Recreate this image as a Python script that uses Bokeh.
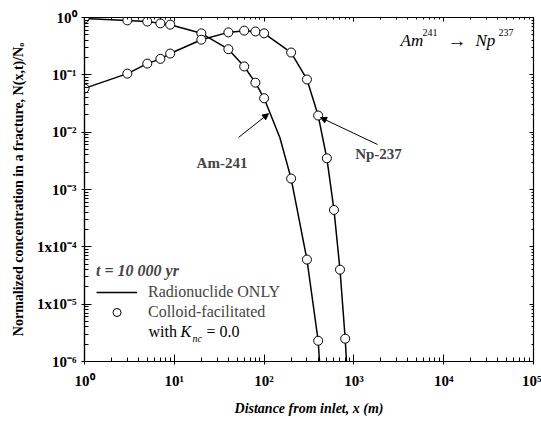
from bokeh.plotting import figure
from bokeh.models import (Range1d, LogAxis, FixedTicker, Label, Arrow, NormalHead,
                          Legend, LegendItem)
from bokeh.embed import file_html
from bokeh.resources import INLINE

# ---- data ----
am_x = [1, 3, 5, 7, 9, 20, 40, 60, 80, 100, 200, 300, 400]
am_y = [0.96, 0.89, 0.85, 0.79, 0.75, 0.53, 0.28, 0.14, 0.073, 0.039, 0.00155, 6.0e-5, 2.3e-6]
am_line_x = [1, 3, 5, 7, 9, 20, 40, 60, 80, 100, 150, 200, 300, 400, 414]
am_line_y = [0.96, 0.89, 0.85, 0.79, 0.75, 0.53, 0.28, 0.14, 0.073, 0.039, 0.008, 0.00155, 6.0e-5, 2.3e-6, 1e-6]

np_x = [1, 3, 5, 7, 9, 20, 40, 60, 80, 100, 200, 300, 400, 500, 600, 700, 800]
np_y = [0.058, 0.105, 0.157, 0.19, 0.235, 0.41, 0.55, 0.59, 0.57, 0.53, 0.245, 0.083, 0.0195,
        0.0035, 4.4e-4, 4.0e-5, 2.5e-6]
np_line_x = np_x + [827]
np_line_y = np_y + [1e-6]

x_ticks = [1, 10, 100, 1000, 10000, 100000]
x_labels = ["10⁰", "10¹", "10²", "10³", "10⁴", "10⁵"]
y_ticks = [1e-6, 1e-5, 1e-4, 1e-3, 1e-2, 1e-1, 1]
y_labels = ["10⁻⁶", "1x10⁻⁵", "1x10⁻⁴", "10⁻³", "10⁻²", "10⁻¹", "10⁰"]
x_minor = [m * 10 ** e for e in range(0, 5) for m in range(2, 10)]
y_minor = [m * 10.0 ** e for e in range(-6, 0) for m in range(2, 10)]

FONT = "Liberation Serif"

p = figure(width=541, height=422, x_axis_type="log", y_axis_type="log",
           x_range=Range1d(1, 1e5), y_range=Range1d(1e-6, 1),
           output_backend="svg", toolbar_location=None,
           min_border_left=84, min_border_right=8, min_border_top=17, min_border_bottom=61)
p.xgrid.visible = False
p.ygrid.visible = False
p.outline_line_color = "black"
p.outline_line_width = 1.2
p.background_fill_color = "white"
p.border_fill_color = "white"

xt = FixedTicker(ticks=x_ticks, minor_ticks=x_minor)
yt = FixedTicker(ticks=y_ticks, minor_ticks=y_minor)

for ax in list(p.xaxis) + list(p.yaxis):
    ax.axis_line_color = "black"
    ax.axis_line_width = 1.2
    ax.major_tick_in = 7
    ax.major_tick_out = 3
    ax.minor_tick_in = 4
    ax.minor_tick_out = 0
    ax.major_tick_line_color = "black"
    ax.minor_tick_line_color = "black"
    ax.major_label_text_font = FONT
    ax.major_label_text_font_style = "bold"
    ax.major_label_text_font_size = "15px"
    ax.major_label_text_color = "black"
    ax.major_label_standoff = 5
    ax.axis_label_text_font = FONT
    ax.axis_label_text_font_size = "14px"
    ax.axis_label_text_color = "black"
for ax in p.xaxis:
    ax.ticker = xt
    ax.major_label_overrides = dict(zip(x_ticks, x_labels))
    ax.axis_label = "Distance from inlet, x (m)"
    ax.axis_label_text_font_style = "bold italic"
    ax.major_label_standoff = 8
    ax.axis_label_standoff = 9
for ax in p.yaxis:
    ax.ticker = yt
    ax.major_label_overrides = dict(zip(y_ticks, y_labels))
    ax.axis_label = "Normalized concentration in a fracture, N(x,t)/Nₒ"
    ax.axis_label_text_font_style = "bold"
    ax.axis_label_standoff = 8

# mirrored axes (ticks only)
top = LogAxis(ticker=xt, major_tick_in=4, major_tick_out=0, minor_tick_in=2, minor_tick_out=0,
              major_label_text_font_size="1px", major_label_text_alpha=0,
              major_label_standoff=0, axis_line_color="black")
right = LogAxis(ticker=yt, major_tick_in=4, major_tick_out=0, minor_tick_in=2, minor_tick_out=0,
                major_label_text_font_size="1px", major_label_text_alpha=0,
                major_label_standoff=0, axis_line_color="black")
p.add_layout(top, "above")
p.add_layout(right, "right")

# curves
l_am = p.line(am_line_x, am_line_y, line_color="black", line_width=1.5)
p.line(np_line_x, np_line_y, line_color="black", line_width=1.5)
c_am = p.scatter(am_x, am_y, marker="circle", size=9, fill_color="white", line_color="black", line_width=1)
p.scatter(np_x, np_y, marker="circle", size=9, fill_color="white", line_color="black", line_width=1)

# legend
legend = Legend(items=[LegendItem(label="Radionuclide ONLY", renderers=[l_am]),
                       LegendItem(label="Colloid-facilitated", renderers=[c_am])],
                location=(12, 39), title="t = 10 000 yr",
                title_text_font=FONT, title_text_font_style="bold italic", title_text_font_size="16px",
                title_standoff=2, label_text_font=FONT, label_text_font_size="16px",
                glyph_width=41, glyph_height=20, label_height=20, label_standoff=11, spacing=0,
                padding=0, margin=0, border_line_alpha=0, background_fill_alpha=0)
p.add_layout(legend, "center")

def lab(x, y, text, size="16px", style="normal", baseline="middle"):
    p.add_layout(Label(x=x, y=y, x_units="screen", y_units="screen", text=text, text_font=FONT,
                       text_font_size=size, text_font_style=style, text_align="left",
                       text_baseline=baseline, text_color="black"))

# "with K_nc = 0.0"  (screen coords relative to frame bottom-left)
lab(148 - 84, 361 - 331, "with ")
lab(180 - 84, 361 - 331, "K", style="italic")
lab(192 - 84, 361 - 338, "nc", size="10px", style="italic")
lab(206 - 84, 361 - 331, "= 0.0")

# Am241 -> Np237
lab(400 - 84, 361 - 40, "Am", size="17px", style="italic", baseline="alphabetic")
lab(422 - 84, 361 - 32, "241", size="10px", baseline="alphabetic")
lab(447 - 84, 361 - 40, "→", size="19px", baseline="alphabetic")
lab(475 - 84, 361 - 40, "Np", size="17px", style="italic", baseline="alphabetic")
lab(498 - 84, 361 - 32, "237", size="10px", baseline="alphabetic")

# curve labels and arrows (data coords)
p.add_layout(Label(x=34, y=0.0029, text="Am-241", text_font=FONT, text_font_style="bold",
                   text_font_size="15px", text_align="center", text_baseline="middle"))
p.add_layout(Label(x=1880, y=0.0042, text="Np-237", text_font=FONT, text_font_style="bold",
                   text_font_size="15px", text_align="center", text_baseline="middle"))
p.add_layout(Arrow(x_start=52, y_start=0.0081, x_end=112, y_end=0.021, line_width=1,
                   end=NormalHead(size=6, fill_color="black", line_color="black")))
p.add_layout(Arrow(x_start=1830, y_start=0.0061, x_end=425, y_end=0.018, line_width=1,
                   end=NormalHead(size=6, fill_color="black", line_color="black")))

open("out.html", "w").write(file_html(p, INLINE))
